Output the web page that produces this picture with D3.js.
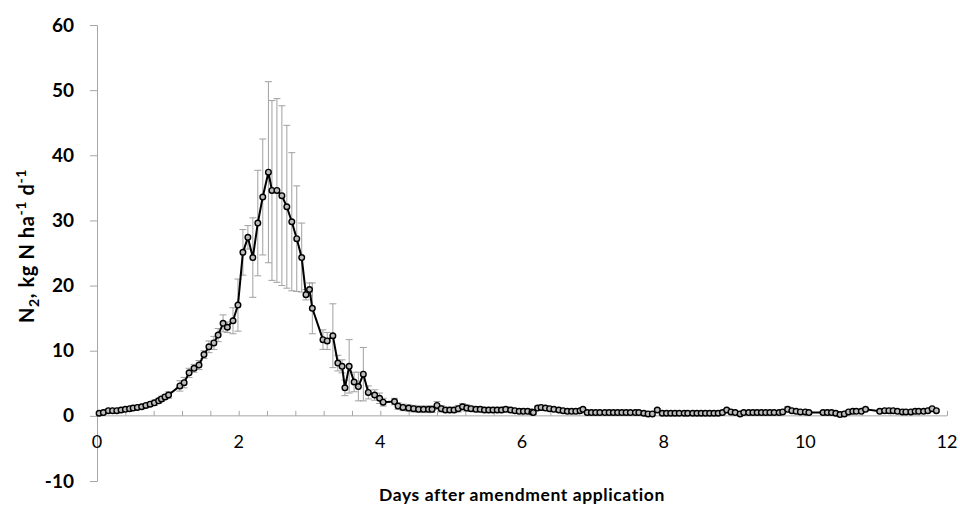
<!DOCTYPE html>
<html>
<head>
<meta charset="utf-8">
<script src="https://cdn.jsdelivr.net/npm/d3@7"></script>
<style>
  body { margin: 0; background: #fff; }
  svg { display: block; }
</style>
</head>
<body>
<div id="chart"></div>
<script>
let width = 960
let height = 508

// sampling time (days after amendment), N2 flux and its error bar half-length
const days = [
  0.03, 0.09, 0.16, 0.22, 0.28, 0.34, 0.40, 0.46, 0.51, 0.57, 0.63, 0.69, 0.75, 0.81, 0.87, 0.91, 0.96, 1.01,
  1.17, 1.23, 1.30, 1.37, 1.44, 1.51, 1.58, 1.65, 1.71, 1.78, 1.84, 1.92, 1.99,
  2.06, 2.13, 2.20, 2.27, 2.34, 2.42, 2.47, 2.54, 2.61, 2.68, 2.75, 2.82, 2.89, 2.95, 3.00, 3.04,
  3.19, 3.25, 3.33, 3.40, 3.46, 3.50, 3.56, 3.63, 3.69, 3.76, 3.83, 3.92, 3.99, 4.04,
  4.20, 4.25, 4.32, 4.40, 4.47, 4.54, 4.61, 4.68, 4.73, 4.80, 4.86, 4.92, 4.98,
  5.04, 5.10, 5.16, 5.22, 5.28, 5.35, 5.41, 5.47, 5.53, 5.59, 5.65, 5.71, 5.77, 5.84, 5.90, 5.96,
  6.02, 6.08, 6.14, 6.16, 6.22, 6.27, 6.33, 6.39, 6.45, 6.52, 6.58, 6.64, 6.70, 6.76, 6.82, 6.86, 6.92, 6.98,
  7.04, 7.10, 7.17, 7.23, 7.29, 7.35, 7.41, 7.47, 7.53, 7.60, 7.65, 7.72, 7.78, 7.84, 7.91, 7.98,
  8.04, 8.10, 8.16, 8.22, 8.29, 8.34, 8.41, 8.47, 8.53, 8.59, 8.65, 8.71, 8.77, 8.83, 8.89, 8.95,
  9.01, 9.08, 9.13, 9.20, 9.26, 9.32, 9.38, 9.44, 9.50, 9.56, 9.63, 9.68, 9.75, 9.81, 9.87, 9.93,
  10.00, 10.05, 10.25, 10.31, 10.37, 10.43, 10.49, 10.55, 10.61, 10.67, 10.72, 10.79, 10.85,
  11.05, 11.12, 11.18, 11.24, 11.30, 11.37, 11.42, 11.49, 11.55, 11.60, 11.67, 11.73, 11.79, 11.85
]
const n2Flux = [
  0.4, 0.5, 0.8, 0.8, 0.8, 0.9, 1.0, 1.1, 1.2, 1.3, 1.4, 1.6, 1.8, 2.0, 2.3, 2.6, 2.9, 3.2,
  4.6, 5.1, 6.6, 7.3, 7.8, 9.4, 10.6, 11.2, 12.4, 14.2, 13.6, 14.6, 17.0,
  25.1, 27.4, 24.3, 29.6, 33.6, 37.4, 34.6, 34.6, 33.8, 32.1, 29.8, 27.2, 24.3, 18.6, 19.4, 16.5,
  11.7, 11.5, 12.3, 8.1, 7.6, 4.3, 7.6, 5.2, 4.5, 6.4, 3.6, 3.2, 2.7, 2.1,
  2.2, 1.5, 1.3, 1.2, 1.1, 1.0, 1.0, 1.0, 1.0, 1.6, 1.1, 0.9, 0.9,
  0.9, 1.1, 1.4, 1.2, 1.1, 1.0, 1.0, 0.9, 0.9, 0.9, 0.9, 0.9, 1.0, 0.9, 0.8, 0.7,
  0.7, 0.7, 0.6, 0.5, 1.2, 1.3, 1.2, 1.1, 1.0, 0.9, 0.8, 0.7, 0.7, 0.7, 0.8, 1.0, 0.5, 0.5,
  0.5, 0.5, 0.5, 0.5, 0.5, 0.5, 0.5, 0.5, 0.5, 0.5, 0.5, 0.4, 0.3, 0.3, 0.9, 0.4,
  0.4, 0.4, 0.4, 0.4, 0.4, 0.4, 0.4, 0.4, 0.4, 0.4, 0.4, 0.4, 0.4, 0.5, 0.9, 0.6,
  0.5, 0.3, 0.5, 0.5, 0.5, 0.5, 0.5, 0.5, 0.5, 0.5, 0.5, 0.6, 1.0, 0.8, 0.7, 0.6,
  0.6, 0.5, 0.5, 0.5, 0.5, 0.4, 0.2, 0.3, 0.6, 0.7, 0.7, 0.7, 1.0,
  0.7, 0.8, 0.8, 0.8, 0.7, 0.6, 0.6, 0.6, 0.7, 0.7, 0.7, 0.8, 1.1, 0.8
]
const n2Err = [
  0.2, 0.2, 0.3, 0.3, 0.3, 0.3, 0.3, 0.3, 0.3, 0.3, 0.3, 0.3, 0.3, 0.4, 0.4, 0.4, 0.4, 0.5,
  0.8, 0.8, 0.7, 0.6, 0.7, 0.6, 0.9, 1.0, 1.0, 1.3, 0.8, 2.0, 4.0,
  3.5, 1.8, 6.1, 8.1, 8.9, 13.9, 13.8, 14.1, 13.8, 12.5, 10.6, 8.1, 5.3, 0.8, 1.0, 3.9,
  1.5, 1.3, 4.9, 1.2, 1.0, 1.2, 4.1, 1.5, 2.2, 4.1, 1.0, 0.8, 0.8, 0.6,
  0.5, 0.5, 0.5, 0.5, 0.5, 0.5, 0.5, 0.5, 0.5, 0.6, 0.5, 0.4, 0.4,
  0.4, 0.5, 0.5, 0.5, 0.4, 0.4, 0.4, 0.4, 0.4, 0.4, 0.4, 0.4, 0.4, 0.3, 0.3, 0.3,
  0.3, 0.3, 0.3, 0.3, 0.3, 0.3, 0.3, 0.3, 0.3, 0.2, 0.2, 0.2, 0.2, 0.2, 0.2, 0.2, 0.2, 0.2,
  0.2, 0.2, 0.2, 0.2, 0.2, 0.2, 0.2, 0.2, 0.2, 0.2, 0.2, 0.2, 0.2, 0.2, 0.2, 0.2,
  0.2, 0.2, 0.2, 0.2, 0.2, 0.2, 0.2, 0.2, 0.2, 0.2, 0.2, 0.2, 0.2, 0.2, 0.2, 0.2,
  0.2, 0.2, 0.2, 0.2, 0.2, 0.2, 0.2, 0.2, 0.2, 0.2, 0.2, 0.2, 0.4, 0.2, 0.2, 0.2,
  0.2, 0.2, 0.2, 0.2, 0.2, 0.2, 0.2, 0.2, 0.2, 0.2, 0.2, 0.2, 0.2,
  0.2, 0.2, 0.2, 0.2, 0.2, 0.2, 0.2, 0.2, 0.2, 0.2, 0.2, 0.2, 0.2, 0.2
]

const xTickLabels = [0, 2, 4, 6, 8, 10, 12]
const xMinorTicks = d3.range(0, 12.01, 0.4)
const yTickLabels = [-10, 0, 10, 20, 30, 40, 50, 60]

const data = days.map((d, i) => ({ day: d, v: n2Flux[i], e: n2Err[i] }))

const axisGray = '#a6a6a6'
const font = 'Lato, "Open Sans", sans-serif'

let svg = d3.select('#chart')
            .append('svg')
            .attr('width', width)
            .attr('height', height)

let xScale = d3.scaleLinear()
            .domain([0, 12])
            .range([97, 947])

let yScale = d3.scaleLinear()
            .domain([-10, 60])
            .range([481, 25])

// y axis
let yAxis = svg.append('g')
    .attr('transform', 'translate(' + xScale(0) + ',0)')
    .call(d3.axisLeft(yScale).tickValues(yTickLabels).tickSize(7).tickPadding(16).tickFormat(d => d))

yAxis.select('.domain').attr('stroke', axisGray)
yAxis.selectAll('.tick line').attr('stroke', axisGray)
yAxis.selectAll('.tick text')
    .attr('fill', '#000')
    .style('font-family', font)
    .style('font-weight', 'bold')
    .style('font-size', '19px')

// x axis sits at y = 0, tick marks point up
let xAxis = svg.append('g')
    .attr('transform', 'translate(0,' + yScale(0) + ')')
    .call(d3.axisTop(xScale).tickValues(xMinorTicks).tickSize(5).tickFormat(''))

xAxis.select('.domain').attr('stroke', axisGray).attr('d', 'M' + xScale(0) + ',0H' + xScale(12))
xAxis.selectAll('.tick line').attr('stroke', axisGray)

svg.append('g')
    .selectAll('text')
    .data(xTickLabels)
    .enter()
    .append('text')
    .attr('x', d => xScale(d))
    .attr('y', yScale(0) + 32)
    .attr('text-anchor', 'middle')
    .style('font-family', font)
    .style('font-size', '18px')
    .text(d => d)

// error bars
let bars = svg.append('g')
    .attr('stroke', '#a0a0a0')
    .attr('stroke-width', 1)

bars.selectAll('.err')
    .data(data)
    .enter()
    .append('path')
    .attr('class', 'err')
    .attr('fill', 'none')
    .attr('d', d => {
        let x = xScale(d.day)
        let y0 = yScale(d.v - d.e)
        let y1 = yScale(d.v + d.e)
        return 'M' + x + ',' + y0 + 'V' + y1 +
            'M' + (x - 3.5) + ',' + y1 + 'H' + (x + 3.5) +
            'M' + (x - 3.5) + ',' + y0 + 'H' + (x + 3.5)
    })

// series line and markers
let line = d3.line()
    .x(d => xScale(d.day))
    .y(d => yScale(d.v))

svg.append('path')
    .datum(data)
    .attr('fill', 'none')
    .attr('stroke', '#000')
    .attr('stroke-width', 2)
    .attr('d', line)

svg.append('g')
    .selectAll('circle')
    .data(data)
    .enter()
    .append('circle')
    .attr('cx', d => xScale(d.day))
    .attr('cy', d => yScale(d.v))
    .attr('r', 2.8)
    .attr('fill', '#bdbdbd')
    .attr('stroke', '#000')
    .attr('stroke-width', 1.4)

// axis titles
let yTitle = svg.append('text')
    .attr('transform', 'translate(34,246) rotate(-90)')
    .attr('text-anchor', 'middle')
    .style('font-family', font)
    .style('font-weight', 'bold')
    .style('font-size', '20px')
    .style('letter-spacing', '0.6px')

yTitle.append('tspan').text('N')
yTitle.append('tspan').attr('dy', 5).style('font-size', '14px').text('2')
yTitle.append('tspan').attr('dy', -5).text(', kg N ha')
yTitle.append('tspan').attr('dy', -8).style('font-size', '14px').text('-1')
yTitle.append('tspan').attr('dy', 8).text(' d')
yTitle.append('tspan').attr('dy', -8).style('font-size', '14px').text('-1')

svg.append('text')
    .attr('x', 522)
    .attr('y', 501)
    .attr('text-anchor', 'middle')
    .style('font-family', font)
    .style('font-weight', 'bold')
    .style('font-size', '17.5px')
    .style('letter-spacing', '0.6px')
    .text('Days after amendment application')
</script>
</body>
</html>
